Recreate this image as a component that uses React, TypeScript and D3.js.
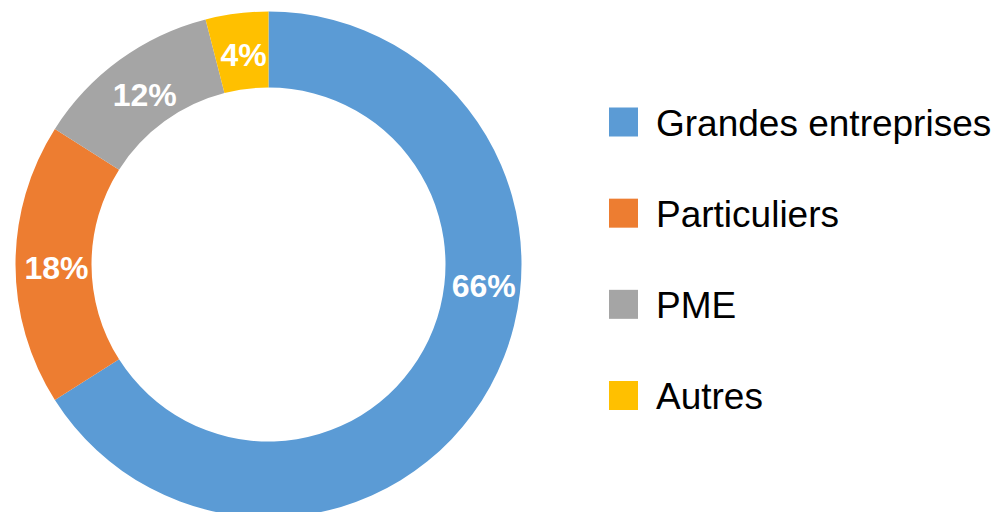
import { useEffect, useRef } from 'react';
import * as d3 from 'd3';

// parts du chiffre d'affaires par type de client
const categories = ['Grandes entreprises', 'Particuliers', 'PME', 'Autres'];
const shares = [66, 18, 12, 4];
const colors = ['#5B9BD5', '#ED7D31', '#A5A5A5', '#FFC000'];

const WIDTH = 996;
const HEIGHT = 512;

// Excel a déplacé l'étiquette de la grosse part, on garde l'angle (degrés)
const labelAngleOverride: Record<string, number> = { 'Grandes entreprises': 95 };

export default function App() {
  const ref = useRef<SVGSVGElement | null>(null);

  useEffect(() => {
    if (!ref.current) return;
    const svg = d3.select(ref.current);
    svg.selectAll('*').remove();

    const cx = 268.5;
    const cy = 264.5;
    const outerR = 253;
    const innerR = 177;

    const data = categories.map((c, i) => ({ name: c, value: shares[i], color: colors[i] }));

    const pie = d3.pie<{ name: string; value: number; color: string }>()
      .sort(null)
      .value(d => d.value);
    const arcs = pie(data);

    const arc = d3.arc<d3.PieArcDatum<{ name: string; value: number; color: string }>>()
      .innerRadius(innerR)
      .outerRadius(outerR);

    const g = svg.append('g').attr('transform', `translate(${cx}, ${cy})`);

    g.selectAll('path.slice')
      .data(arcs)
      .enter()
      .append('path')
      .attr('class', 'slice')
      .attr('d', arc)
      .attr('fill', d => d.data.color);

    const labelR = (innerR + outerR) / 2 - 1;
    const labelPos = (d: d3.PieArcDatum<{ name: string; value: number; color: string }>) => {
      const over = labelAngleOverride[d.data.name];
      const a = over !== undefined ? (over * Math.PI) / 180 : (d.startAngle + d.endAngle) / 2;
      return [Math.sin(a) * labelR + 2, -Math.cos(a) * labelR + 3];
    };

    g.selectAll('text.pct')
      .data(arcs)
      .enter()
      .append('text')
      .attr('class', 'pct')
      .attr('x', d => labelPos(d)[0])
      .attr('y', d => labelPos(d)[1])
      .attr('dy', '0.35em')
      .attr('text-anchor', 'middle')
      .style('font-family', 'Liberation Sans, Arial, sans-serif')
      .style('font-weight', '700')
      .style('font-size', '32px')
      .style('fill', '#ffffff')
      .text(d => `${d.data.value}%`);

    // légende
    const ly = d3.scalePoint<string>()
      .domain(categories)
      .range([107.5, 381]);

    const legend = svg.append('g');
    const items = legend.selectAll('g.item')
      .data(data)
      .enter()
      .append('g')
      .attr('class', 'item')
      .attr('transform', d => `translate(609, ${ly(d.name)})`);

    items.append('rect')
      .attr('width', 29)
      .attr('height', 29)
      .attr('fill', d => d.color);

    items.append('text')
      .attr('x', 47)
      .attr('y', 28)
      .style('font-family', 'Liberation Sans, Arial, sans-serif')
      .style('font-size', '37px')
      .style('fill', '#000000')
      .text(d => d.name);
  }, []);

  return (
    <div style={{ position: 'absolute', left: 0, top: 0, width: WIDTH, height: HEIGHT, background: '#ffffff' }}>
      <svg ref={ref} width={WIDTH} height={HEIGHT} style={{ display: 'block' }} />
    </div>
  );
}
